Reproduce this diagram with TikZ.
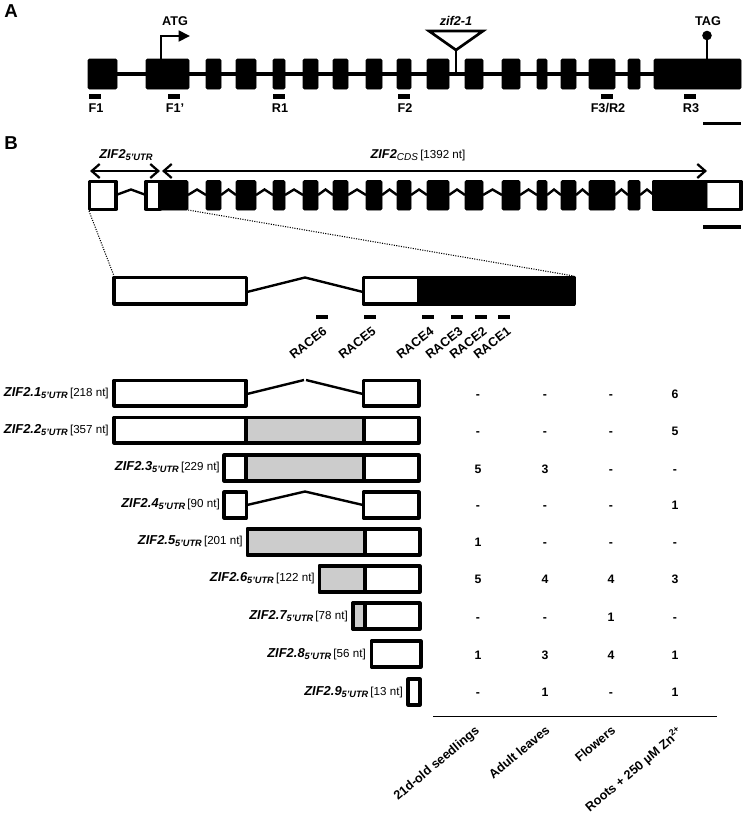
\documentclass[tikz,border=0pt]{standalone}
\usepackage{fontspec}
\setmainfont{Liberation Sans}
\usetikzlibrary{arrows.meta}
\newcommand{\fs}[1]{\fontsize{#1}{#1}\selectfont}
\newcommand{\utr}{\raisebox{-2pt}{\fs{6.9}\bfseries\itshape 5'UTR}}
\newcommand{\zlab}[2]{{\fs{9.7}\bfseries\itshape #1}\utr\,{\fs{8.7}[#2 nt]}}
\tikzset{
  x=0.75pt,y=-0.75pt,
  exon/.style={fill=black,draw=black,line width=0.6pt,rounded corners=1pt},
  wbox/.style={fill=white,draw=black,line width=2.3pt,line join=round},
  gbox/.style={fill=black!20,draw=black,line width=2.3pt,line join=round},
  intron/.style={draw=black,line width=1.8pt},
  geneline/.style={draw=black,line width=2.3pt},
  primer/.style={fill=black,draw=none},
  blab/.style={font=\fs{9.5}\bfseries,inner sep=0pt},
  panel/.style={font=\fs{14}\bfseries,inner sep=0pt},
  rot/.style={font=\fs{9.5}\bfseries,inner sep=0pt,rotate=38},
  val/.style={font=\fs{9.2}\bfseries,inner sep=0pt,anchor=base},
  rowlab/.style={anchor=east,inner sep=0pt},
  dotl/.style={draw=black,line width=0.8pt,densely dotted},
  scalebar/.style={draw=black,line width=2.3pt},
  span/.style={draw=black,line width=1.5pt,{Straight Barb[length=6pt,width=10.5pt,line width=1.7pt]}-{Straight Barb[length=6pt,width=10.5pt,line width=1.7pt]}}
}
\begin{document}
\begin{tikzpicture}
\useasboundingbox (0,0) rectangle (746,818);
\fill[white] (0,0) rectangle (746,818);
% Panel labels
\node[panel] (pa) at (11,11) {A};
\node[panel] (pb) at (11,143) {B};
% Panel A
\draw[geneline] (90,74) -- (740,74);
\foreach \a/\b in {88/117,146/189,206/221,236/256,273/285,303/318,333/348,366/382,397/411,427/449,465/483,502/520,537/547,561/576,589/615,628/640,654/741}
  \draw[exon] (\a,59) rectangle (\b,89);
\foreach \a/\t/\c [count=\i] in {89/F1/96,168/F1'/175,273/R1/280,398/F2/405,601/F3\slash R2/608,684/R3/691}{
  \fill[primer] (\a,94) rectangle (\a+12,99);
  \node[blab] (pl\i) at (\c,108.5) {\t};
}
% ATG
\coordinate (atgs) at (161,59);
\coordinate (atge) at (190,36);
\draw[line width=2pt,-{Triangle[length=8.5pt,width=8pt]}] (atgs) |- (atge);
\node[blab] (atg) at (175,21) {ATG};
% zif2-1
\coordinate (zb) at (456,73);
\coordinate (zt) at (456,50);
\draw[line width=2pt] (zb) -- (zt);
\draw[line width=2pt,fill=white,line join=miter] (429,31) -- (483,31) -- (zt) -- cycle;
\node[blab,font=\fs{9.5}\bfseries\itshape] (zif) at (456,21) {zif2-1};
% TAG
\coordinate (tb) at (707,59);
\coordinate (tt) at (707,36);
\draw[line width=1.9pt] (tb) -- (tt);
\fill (707,35.5) circle (4.8);
\node[blab] (tag) at (708,21) {TAG};
\coordinate (sa1) at (703,123.5);
\coordinate (sa2) at (741,123.5);
\draw[scalebar] (sa1) -- (sa2);
% Panel B
\coordinate (u1) at (90,171);
\coordinate (u2) at (160,171);
\coordinate (c1) at (162,171);
\coordinate (c2) at (707,171);
\draw[span] (u1) -- (u2);
\draw[span] (c1) -- (c2);
\node[inner sep=0pt] (lu) at (126,155) {{\fs{9.6}\bfseries\itshape ZIF2}\raisebox{-2pt}{\fs{7}\bfseries\itshape 5'UTR}};
\node[inner sep=0pt] (lc) at (418,155) {{\fs{9.6}\bfseries\itshape ZIF2}\raisebox{-2pt}{\fs{7.5}\itshape CDS}\,{\fs{8.7}[1392 nt]}};
% zigzag introns
\foreach \a/\b in {116/146,188/206,221/236,256/273,285/303,318/333,348/366,382/397,411/427,449/465,483/502,520/537,547/561,576/589,615/628,640/654}
  \draw[intron] (\a,195) -- ({(\a+\b)/2},189.5) -- (\b,195);
\draw[wbox] (89.5,181.5) rectangle (116,209.5);
\draw[wbox] (146,181.5) rectangle (160,209.5);
\foreach \a/\b in {159/188,206/221,236/256,273/285,303/318,333/348,366/382,397/411,427/449,465/483,502/520,537/547,561/576,589/615,628/640}
  \draw[exon] (\a,180.5) rectangle (\b,210);
\draw[wbox] (654,181.5) rectangle (741,209.5);
\draw[exon] (654,180.5) rectangle (707,210);
\coordinate (sb1) at (703,227);
\coordinate (sb2) at (741,227);
\draw[scalebar] (sb1) -- (sb2);
% Zoom dotted
\coordinate (d1) at (89,211);
\coordinate (d2) at (114,276);
\coordinate (d3) at (188,210);
\coordinate (d4) at (574,276);
\draw[dotl] (d1) -- (d2);
\draw[dotl] (d3) -- (d4);
% Enlarged
\draw[wbox] (114,277.5) rectangle (246.5,304);
\draw[intron] (247,292) -- (305,277.5) -- (363,292);
\draw[wbox] (363.5,277.5) rectangle (574,304);
\fill[black] (417,276) rectangle (575,305.5);
% RACE
\foreach \a/\t/\cx [count=\i] in {316/RACE6/308,364/RACE5/357,422/RACE4/415,451/RACE3/444,475/RACE2/468,498/RACE1/492}{
  \fill[primer] (\a,314.5) rectangle (\a+12,319);
  \node[rot] (race\i) at (\cx,343) {\t};
}
% Transcripts
% row 1
\draw[intron] (247,394) -- (304,380);
\draw[intron] (306,380) -- (363,394);
\draw[wbox] (114,380.5) rectangle (246,406);
\draw[wbox] (363.5,380.5) rectangle (419,406);
% row 2
\draw[wbox] (114,417.5) rectangle (419,443);
\draw[gbox] (246,417.5) rectangle (364,443);
% row 3
\draw[wbox] (224,455) rectangle (419,481);
\draw[gbox] (246,455) rectangle (364,481);
% row 4
\draw[intron] (247,505) -- (305,491.5) -- (363,505);
\draw[wbox] (224,492) rectangle (246.5,518);
\draw[wbox] (363.5,492) rectangle (419,518);
% row 5
\draw[wbox] (247.5,529) rectangle (420,555);
\draw[gbox] (247.5,529) rectangle (365,555);
% row 6
\draw[wbox] (319.5,566) rectangle (420,592);
\draw[gbox] (319.5,566) rectangle (365,592);
% row 7
\draw[wbox] (353,603) rectangle (420,629);
\draw[gbox] (353,603) rectangle (365,629);
% row 8
\draw[wbox] (371.5,641) rectangle (421,667);
% row 9
\draw[wbox] (408,679) rectangle (420,705);
% Row labels
\node[rowlab] (t1) at (109,393) {\zlab{ZIF2.1}{218}};
\node[rowlab] (t2) at (109,430) {\zlab{ZIF2.2}{357}};
\node[rowlab] (t3) at (220,467) {\zlab{ZIF2.3}{229}};
\node[rowlab] (t4) at (220,504) {\zlab{ZIF2.4}{90}};
\node[rowlab] (t5) at (243,541) {\zlab{ZIF2.5}{201}};
\node[rowlab] (t6) at (315,578) {\zlab{ZIF2.6}{122}};
\node[rowlab] (t7) at (348,616) {\zlab{ZIF2.7}{78}};
\node[rowlab] (t8) at (366,654) {\zlab{ZIF2.8}{56}};
\node[rowlab] (t9) at (403,692) {\zlab{ZIF2.9}{13}};
% Values
\foreach \y/\p/\q/\r/\s [count=\i] in {398/-/-/-/6,435/-/-/-/5,473/5/3/-/-,509/-/-/-/1,546/1/-/-/-,583/5/4/4/3,621/-/-/1/-,659/1/3/4/1,696/-/1/-/1}{
  \node[val] (va\i) at (478,\y) {\p};
  \node[val] (vb\i) at (545,\y) {\q};
  \node[val] (vc\i) at (611,\y) {\r};
  \node[val] (vd\i) at (675,\y) {\s};
}
\coordinate (r1) at (433,716.5);
\coordinate (r2) at (717,716.5);
\draw[line width=1pt] (r1) -- (r2);
\node[rot,rotate=2] (c1l) at (437,764) {21d-old seedlings};
\node[rot,rotate=2] (c2l) at (519,752) {Adult leaves};
\node[rot,rotate=2] (c3l) at (595,744) {Flowers};
\node[rot,rotate=2] (c4l) at (634,770) {Roots + 250 µM Zn\textsuperscript{2+}};
\end{tikzpicture}
\end{document}
